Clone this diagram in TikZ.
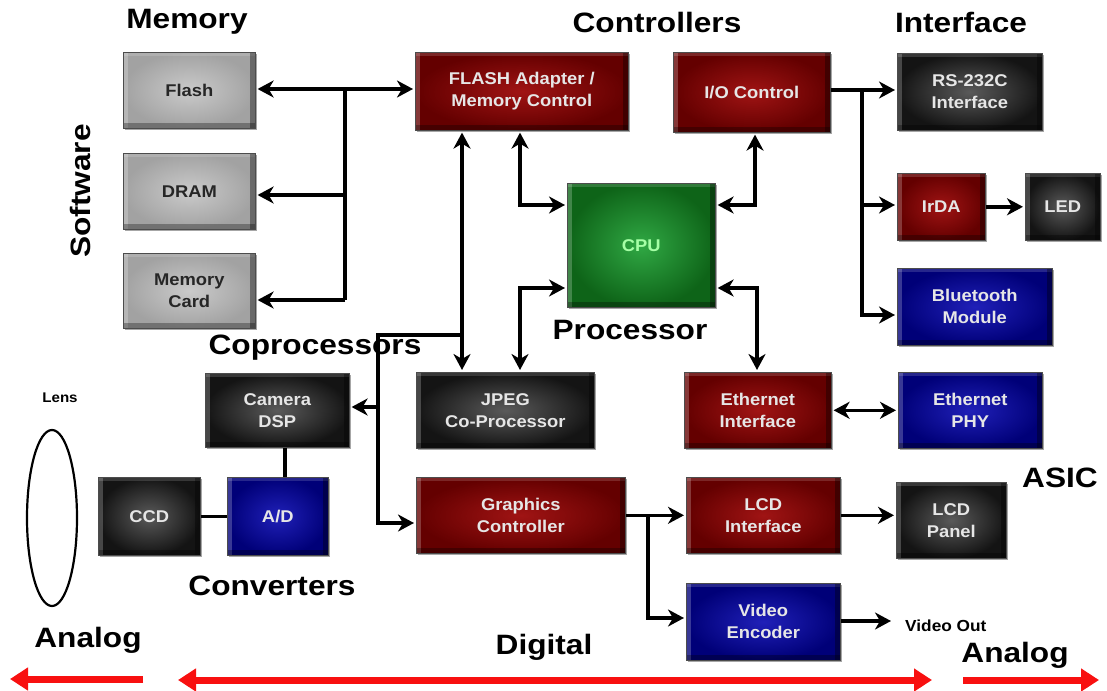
\documentclass[tikz,border=0pt]{standalone}
\usepackage{fontspec}
\setmainfont{Liberation Sans}
\newfontfamily\ttlfont[FakeStretch=1.13]{Liberation Sans}
\newfontfamily\bxfont[FakeStretch=1.08]{Liberation Sans}
\usetikzlibrary{arrows.meta,shadows,shapes.geometric}
\definecolor{redin}{HTML}{A01414}
\definecolor{redout}{HTML}{640000}
\definecolor{blkin}{HTML}{5A5A5A}
\definecolor{blkout}{HTML}{141414}
\definecolor{bluin}{HTML}{2020B8}
\definecolor{bluout}{HTML}{000078}
\definecolor{gryin}{HTML}{CACACA}
\definecolor{gryout}{HTML}{A2A2A2}
\definecolor{grnin}{HTML}{30A844}
\definecolor{grnout}{HTML}{0E6418}
\definecolor{boxtext}{HTML}{E6E6E6}
\definecolor{arrowred}{HTML}{F81010}
\begin{document}
\begin{tikzpicture}[x=1pt,y=-1pt,
  box/.style={rectangle, inner sep=0pt, anchor=north west, align=center,
    font=\bxfont\bfseries\fontsize{17}{22}\selectfont, text=boxtext,
    draw=black!70, line width=0.6pt,
    drop shadow={shadow xshift=2pt,shadow yshift=-2pt,opacity=0.35,fill=black},
    path picture={
      \fill[white,opacity=0.22] (path picture bounding box.north west) rectangle ([xshift=5pt]path picture bounding box.south west);
      \fill[white,opacity=0.15] (path picture bounding box.north west) rectangle ([yshift=-4pt]path picture bounding box.north east);
      \fill[black,opacity=0.35] (path picture bounding box.north east) rectangle ([xshift=-5pt]path picture bounding box.south east);
      \fill[black,opacity=0.3] (path picture bounding box.south west) rectangle ([yshift=5pt]path picture bounding box.south east);
    }},
  sz/.style 2 args={minimum width=#1pt, minimum height=#2pt},
  redbox/.style={box, inner color=redin, outer color=redout},
  blkbox/.style={box, inner color=blkin, outer color=blkout},
  blubox/.style={box, inner color=bluin, outer color=bluout},
  grybox/.style={box, inner color=gryin, outer color=gryout, text=black!85},
  grnbox/.style={box, inner color=grnin, outer color=grnout, text=green!35!white},
  ttl/.style={font=\ttlfont\bfseries\fontsize{28}{30}\selectfont, inner sep=0pt},
  ln/.style={line width=3.6pt, line join=miter},
  tip/.tip={Stealth[length=16pt,width=17pt,inset=5pt]},
  ar/.style={ln, -tip, shorten >=2pt},
  bi/.style={ln, tip-tip, shorten >=2pt, shorten <=2pt},
  redar/.style={line width=7pt, draw=arrowred, -{Triangle[length=18pt,width=22pt]}},
  redbi/.style={line width=7pt, draw=arrowred, {Triangle[length=18pt,width=22pt]}-{Triangle[length=18pt,width=22pt]}}
]
\useasboundingbox[fill=white] (0,0) rectangle (1107,690);

% titles
\node[ttl] (tmem) at (187,22) {Memory};
\node[ttl] (tctl) at (657,22) {Controllers};
\node[ttl] (tint) at (961,22) {Interface};
\node[ttl, rotate=90] (tsw) at (80,191) {Software};
\node[ttl] (tproc) at (630,330) {Processor};
\node[ttl] (tcop) at (315,348) {Coprocessors};
\node[ttl] (tconv) at (272,586) {Converters};
\node[ttl] (tasic) at (1060,478) {ASIC};
\node[ttl] (tan1) at (88,640) {Analog};
\node[ttl] (tdig) at (544,647) {Digital};
\node[ttl] (tan2) at (1015,655) {Analog};
\node[font=\bxfont\bfseries\fontsize{14}{16}\selectfont, inner sep=0pt] (tlens) at (60,398) {Lens};

% memory
\node[grybox, sz={132}{76}] (flash) at (123,52) {Flash};
\node[grybox, sz={132}{76}] (dram) at (123,153) {DRAM};
\node[grybox, sz={132}{75}] (mcard) at (123,253) {Memory\\Card};

% controllers
\node[redbox, sz={213}{78}] (fam) at (415,52) {FLASH Adapter /\\Memory Control};
\node[redbox, sz={157}{80}] (io) at (673,52) {I/O Control};
\node[grnbox, sz={148}{124}] (cpu) at (567,183) {CPU};

% interface
\node[blkbox, sz={145}{77}] (rs) at (897,53) {RS-232C\\Interface};
\node[redbox, sz={88}{67}] (irda) at (897,173) {IrDA};
\node[blkbox, sz={75}{67}] (led) at (1025,173) {LED};
\node[blubox, sz={155}{77}] (bt) at (897,268) {Bluetooth\\Module};

% middle
\node[blkbox, sz={178}{76}] (jpeg) at (416,372) {JPEG\\Co-Processor};
\node[redbox, sz={147}{76}] (eth) at (684,372) {Ethernet\\Interface};
\node[blubox, sz={144}{76}] (phy) at (898,372) {Ethernet\\PHY};
\node[redbox, sz={209}{76}] (gc) at (416,477) {Graphics\\Controller};
\node[redbox, sz={154}{76}] (lcd) at (686,477) {LCD\\Interface};
\node[blkbox, sz={110}{76}] (panel) at (896,482) {LCD\\Panel};
\node[blubox, sz={154}{77}] (venc) at (686,583) {Video\\Encoder};

% camera side
\node[blkbox, sz={144}{74}] (dsp) at (205,373) {Camera\\DSP};
\node[blkbox, sz={102}{78}] (ccd) at (98,477) {CCD};
\node[blubox, sz={101}{78}] (ad) at (227,477) {A/D};
\node[draw, ellipse, line width=2.2pt, inner sep=0pt, minimum width=50pt, minimum height=176pt] (lens) at (52,518) {};

\node[font=\bxfont\bfseries\fontsize{16}{18}\selectfont, inner sep=0pt, anchor=west] (vout) at (905,626) {Video Out};

% memory bus
\coordinate (m1) at (345,89);
\coordinate (m2) at (345,195);
\coordinate (m3) at (345,300);
\draw[ln] (m1) -- (m3);
\draw[ar] (m1) -- (m1 -| flash.east);
\draw[ar] (m2) -- (m2 -| dram.east);
\draw[ar] (m3) -- (m3 -| mcard.east);
\draw[ar] (m1) -- (m1 -| fam.west);

% flash adapter <-> jpeg, coprocessor bus
\coordinate (j1) at (462,335);
\coordinate (j2) at (378,335);
\coordinate (j3) at (378,407);
\coordinate (j4) at (378,523);
\draw[bi] (j1 |- fam.south) -- (j1 |- jpeg.north);
\draw[ar] (j1) -- (j2) -- (j4) -- (j4 -| gc.west);
\draw[ar] (j3) -- (j3 -| dsp.east);

% cpu links
\coordinate (k1) at (520,205);
\coordinate (k2) at (755,205);
\coordinate (k3) at (520,288);
\coordinate (k4) at (757,288);
\draw[bi] (k1 |- fam.south) -- (k1) -- (k1 -| cpu.west);
\draw[bi] (k2 |- io.south) -- (k2) -- (k2 -| cpu.east);
\draw[bi] (k3 -| cpu.west) -- (k3) -- (k3 |- jpeg.north);
\draw[bi] (k4 -| cpu.east) -- (k4) -- (k4 |- eth.north);

% io bus
\coordinate (i1) at (862,90);
\coordinate (i2) at (862,205);
\coordinate (i3) at (862,315);
\draw[ar] (i1 -| io.east) -- (i1 -| rs.west);
\draw[ar] (i1) -- (i3) -- (i3 -| bt.west);
\draw[ar] (i2) -- (i2 -| irda.west);
\draw[ar] (irda.east) -- (led.west);

\draw[bi] (eth.east) -- (phy.west);

% graphics
\coordinate (g1) at (648,515);
\coordinate (g2) at (648,618);
\draw[ar] (gc.east) -- (lcd.west);
\draw[ar] (g1) -- (g2) -- (g2 -| venc.west);
\draw[ar] (lcd.east) -- (lcd.east -| panel.west);
\coordinate (vo) at (893,621);
\draw[ar] (venc.east |- vo) -- (vo);

% camera
\coordinate (dl) at (285,0);
\draw[ln] (dl |- dsp.south) -- (dl |- ad.north);
\draw[ln] (ccd.east) -- (ad.west);

% red domain arrows
\coordinate (ra1) at (143,679);
\coordinate (ra1t) at (10,679);
\coordinate (ra2l) at (178,680);
\coordinate (ra2r) at (932,680);
\coordinate (ra3) at (963,680);
\coordinate (ra3t) at (1099,680);
\draw[redar] (ra1) -- (ra1t);
\draw[redbi] (ra2l) -- (ra2r);
\draw[redar] (ra3) -- (ra3t);
\end{tikzpicture}
\end{document}
